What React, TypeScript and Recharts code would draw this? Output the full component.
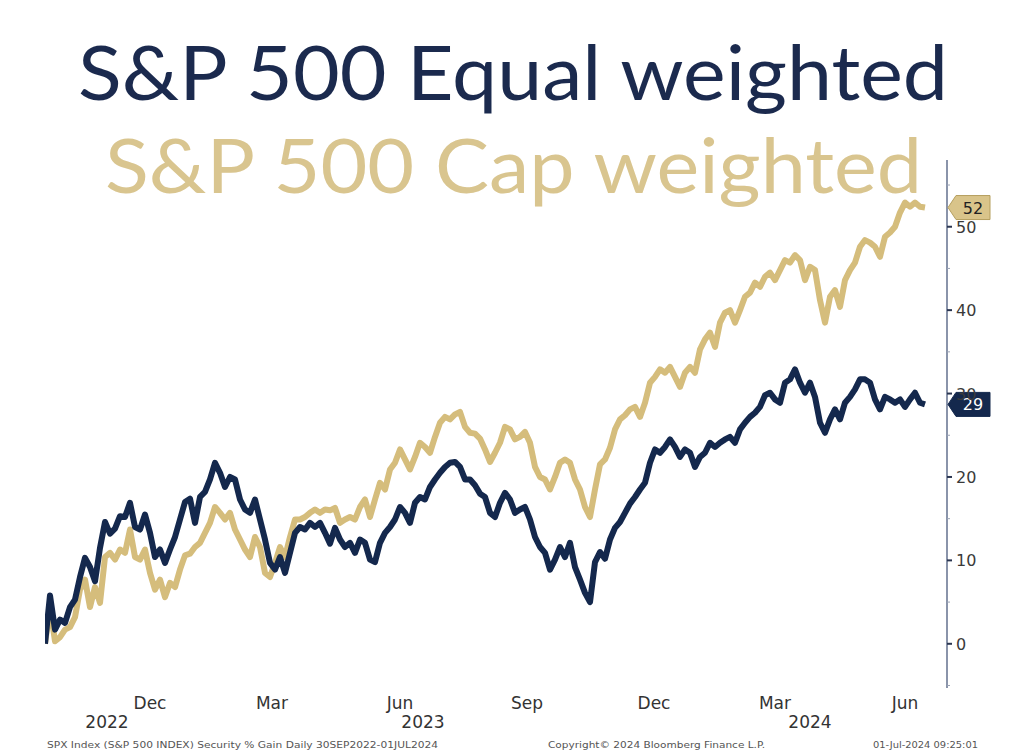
import React from 'react';
import { LineChart, Line, XAxis, YAxis, ReferenceDot } from 'recharts';

// Values read every ~3.6 days (one step = one sample), 30 Sep 2022 -> 1 Jul 2024, % gain
const equalWeighted = [
  0, 5.8, 1.7, 2.9, 2.5, 4.4, 5.3, 8.0, 10.3, 9.2,
  7.5, 11.5, 14.6, 13.2, 13.8, 15.3, 15.2, 16.9, 14.0, 13.7,
  15.5, 13.3, 10.4, 11.3, 9.7, 11.3, 12.8, 14.9, 17.0, 17.4,
  14.5, 17.6, 18.2, 19.7, 21.7, 20.5, 18.8, 20.0, 19.7, 17.3,
  16.1, 15.7, 17.3, 14.9, 12.5, 9.7, 8.9, 10.4, 8.5, 10.9,
  13.3, 14.0, 13.7, 14.5, 14.0, 14.5, 13.3, 12.0, 13.9, 12.5,
  11.6, 12.1, 10.9, 12.5, 12.1, 10.1, 9.8, 12.1, 13.3, 14.0,
  14.9, 16.4, 15.7, 14.5, 16.9, 17.6, 17.3, 18.8, 19.7, 20.5,
  21.2, 21.7, 21.8, 21.2, 19.7, 19.7, 19.0, 18.0, 17.6, 15.7,
  15.2, 16.9, 18.1, 17.3, 15.7, 16.1, 16.4, 14.9, 12.8, 11.6,
  10.9, 8.9, 10.1, 11.6, 10.4, 12.1, 9.2, 7.7, 6.1, 5.0,
  9.8, 11.0, 10.2, 12.5, 13.9, 14.6, 15.7, 16.8, 17.6, 18.5,
  19.3, 21.7, 23.3, 22.9, 23.6, 24.5, 23.6, 22.4, 23.3, 22.9,
  21.2, 22.4, 22.9, 24.1, 23.6, 24.1, 24.5, 24.8, 24.1, 25.7,
  26.5, 27.2, 27.7, 28.4, 29.8, 30.1, 29.3, 28.9, 31.3, 31.7,
  32.9, 31.3, 30.1, 31.3, 29.6, 26.5, 25.3, 26.9, 28.1, 26.9,
  28.9, 29.6, 30.5, 31.7, 31.7, 31.3, 29.3, 28.1, 29.6, 29.3,
  28.9, 29.3, 28.4, 29.3, 30.1, 28.9, 28.7,
];

const capWeighted = [
  0, 4.5, 0.3, 0.8, 1.7, 2.0, 3.2, 6.5, 7.7, 4.4,
  6.8, 4.9, 10.4, 10.9, 10.1, 11.3, 10.9, 13.7, 10.4, 10.1,
  11.3, 8.5, 6.5, 7.7, 5.6, 7.3, 6.8, 8.9, 10.6, 10.8,
  11.6, 12.1, 13.3, 14.5, 16.4, 15.7, 14.9, 15.7, 13.7, 12.5,
  11.3, 10.4, 12.8, 11.6, 8.5, 8.0, 9.7, 11.6, 10.4, 12.8,
  14.9, 14.9, 15.2, 15.7, 16.1, 15.7, 16.1, 16.0, 16.3, 14.5,
  14.9, 15.2, 14.9, 16.4, 17.3, 15.2, 17.3, 19.3, 18.5, 20.9,
  21.7, 23.3, 22.1, 20.9, 22.4, 24.1, 23.6, 22.9, 24.8, 26.5,
  27.2, 26.9, 27.5, 27.8, 26.0, 25.3, 25.2, 24.6, 23.3, 21.8,
  22.9, 24.1, 26.0, 25.7, 24.5, 24.8, 25.4, 24.1, 21.2, 20.0,
  19.7, 18.5, 20.0, 21.7, 22.1, 21.7, 19.7, 18.5, 16.4, 15.2,
  18.5, 21.5, 22.1, 23.5, 25.7, 26.9, 27.4, 28.1, 28.4, 27.2,
  28.9, 31.3, 32.0, 32.9, 32.5, 33.2, 32.0, 30.8, 32.5, 33.2,
  32.5, 35.3, 36.5, 37.3, 35.6, 38.5, 39.7, 40.0, 38.5, 40.0,
  41.6, 42.1, 43.3, 42.8, 44.0, 44.5, 43.6, 44.8, 46.0, 45.7,
  46.6, 46.0, 43.6, 45.2, 44.8, 41.2, 38.5, 41.6, 42.4, 40.4,
  43.6, 44.8, 45.7, 47.6, 48.4, 48.1, 47.6, 46.4, 48.8, 49.3,
  50.0, 51.7, 52.9, 52.4, 52.9, 52.4, 52.3,
];

const monthTickPos = [21, 45.4, 71, 96.4, 121.8, 146, 172];
const monthLabels = ['Dec', 'Mar', 'Jun', 'Sep', 'Dec', 'Mar', 'Jun'];
const yearTickPos = [12.4, 75.6, 153];
const yearLabels = ['2022', '2023', '2024'];
const yTicks = [-5, 0, 5, 10, 15, 20, 25, 30, 35, 40, 45, 50, 55];

const titleEqual = 'S&P 500 Equal weighted';
const titleCap = 'S&P 500 Cap weighted';
const footerLeft = 'SPX Index (S&P 500 INDEX) Security % Gain  Daily 30SEP2022-01JUL2024';
const footerMid = 'Copyright\u00A9 2024 Bloomberg Finance L.P.';
const footerRight = '01-Jul-2024 09:25:01';

const NAVY = '#14284d';
const GOLD = '#d5bd7c';
const GOLD_TITLE = '#d9c58f';
const NAVY_TITLE = '#1b2a4e';

const data = equalWeighted.map((v, i) => ({ t: i, eq: v, cap: capWeighted[i] }));
const lastIdx = data.length - 1;

const XTick = (props: any) => {
  const { x, y, payload } = props;
  const mi = monthTickPos.indexOf(payload.value);
  if (mi >= 0) {
    return (
      <text x={x} y={y + 21} textAnchor="middle" fontSize={17} fontFamily="DejaVu Sans" fill="#333">
        {monthLabels[mi]}
      </text>
    );
  }
  const yi = yearTickPos.indexOf(payload.value);
  if (yi >= 0) {
    return (
      <text x={x} y={y + 40} textAnchor="middle" fontSize={17} fontFamily="DejaVu Sans" fill="#333">
        {yearLabels[yi]}
      </text>
    );
  }
  return null;
};

const YTick = (props: any) => {
  const { x, y, payload } = props;
  const v = payload.value;
  const major = v % 10 === 0;
  return (
    <g>
      <line x1={x} x2={x + (major ? 5 : 3)} y1={y} y2={y} stroke={major ? '#2a3550' : '#9aa2b5'} strokeWidth={major ? 2 : 1} />
      {major && v >= 0 ? (
        <text x={x + 9} y={y + 6} fontSize={16} fontFamily="DejaVu Sans" fill="#3a3a3a">
          {v}
        </text>
      ) : null}
    </g>
  );
};

const makeTag = (fill: string, textFill: string, label: string, stroke: string) => (props: any) => {
  const { cx, cy } = props;
  const h = 12;
  const p = `M${cx + 1},${cy} L${cx + 9},${cy - h} L${cx + 43},${cy - h} L${cx + 43},${cy + h} L${cx + 9},${cy + h} Z`;
  return (
    <g>
      <path d={p} fill={fill} stroke={stroke} strokeWidth={1} />
      <text x={cx + 26} y={cy + 6} textAnchor="middle" fontSize={16} fontFamily="DejaVu Sans" fill={textFill}>
        {label}
      </text>
    </g>
  );
};

export default function App() {
  return (
    <div style={{ position: 'relative', width: 1017, height: 748, background: '#fff' }}>
      <LineChart
        width={1017}
        height={748}
        data={data}
        margin={{ top: 152, right: 28, bottom: 20, left: 37 }}
      >
        <XAxis
          dataKey="t"
          type="number"
          domain={[0, 180.4]}
          ticks={[...monthTickPos, ...yearTickPos]}
          interval={0}
          axisLine={false}
          tickLine={false}
          tickSize={0}
          tickMargin={0}
          height={48}
          tick={<XTick />}
          allowDataOverflow
        />
        <YAxis
          orientation="right"
          type="number"
          domain={[-5.3, 58]}
          ticks={yTicks}
          interval={0}
          width={50}
          tickSize={0}
          tickMargin={0}
          tickLine={false}
          axisLine={{ stroke: '#8a94aa', strokeWidth: 2 }}
          tick={<YTick />}
          allowDataOverflow
        />
        <Line
          dataKey="cap"
          stroke={GOLD}
          strokeWidth={6}
          dot={false}
          strokeLinejoin="round"
          isAnimationActive={false}
        />
        <Line
          dataKey="eq"
          stroke={NAVY}
          strokeWidth={6}
          dot={false}
          strokeLinejoin="round"
          isAnimationActive={false}
        />
        <ReferenceDot
          x={180.4}
          y={capWeighted[lastIdx]}
          ifOverflow="visible"
          shape={makeTag('#d9c48a', '#222', String(Math.round(capWeighted[lastIdx])), '#b59f5f')}
        />
        <ReferenceDot
          x={180.4}
          y={equalWeighted[lastIdx]}
          ifOverflow="visible"
          shape={makeTag(NAVY, '#fff', String(Math.round(equalWeighted[lastIdx])), NAVY)}
        />
      </LineChart>
      <svg
        width={1017}
        height={748}
        style={{ position: 'absolute', left: 0, top: 0, pointerEvents: 'none' }}
      >
        <text x={70} y={92} fontSize={76} fontFamily="Lato" fill={NAVY_TITLE} textLength={870} lengthAdjust="spacingAndGlyphs">
          {titleEqual}
        </text>
        <text x={97} y={185} fontSize={76} fontFamily="Lato" fill={GOLD_TITLE} textLength={817} lengthAdjust="spacingAndGlyphs">
          {titleCap}
        </text>
        <text x={39} y={740} fontSize={8.5} fontFamily="DejaVu Sans" fill="#555" textLength={391} lengthAdjust="spacingAndGlyphs">
          {footerLeft}
        </text>
        <text x={540} y={740} fontSize={8.5} fontFamily="DejaVu Sans" fill="#555" textLength={217} lengthAdjust="spacingAndGlyphs">
          {footerMid}
        </text>
        <text x={865} y={740} fontSize={8.5} fontFamily="DejaVu Sans" fill="#555" textLength={105} lengthAdjust="spacingAndGlyphs">
          {footerRight}
        </text>
      </svg>
    </div>
  );
}
